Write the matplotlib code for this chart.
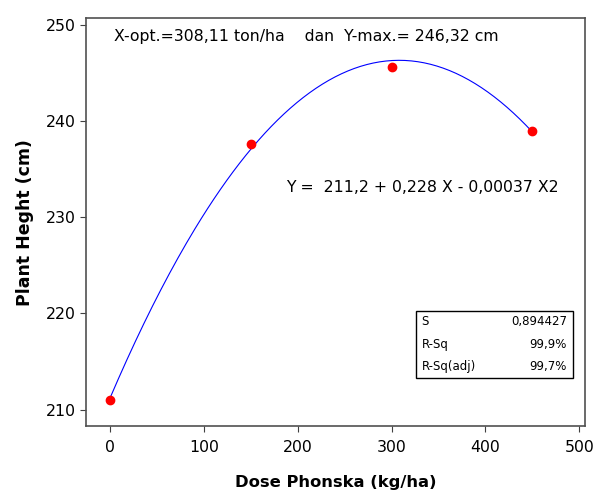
import matplotlib.pyplot as plt
from matplotlib.patches import Rectangle
import numpy as np

dose = [0, 150, 300, 450]                      # Dose Phonska (kg/ha)
height = [211.0, 237.6, 245.6, 239.0]          # Plant height (cm)
coef = [-0.00037, 0.228, 211.2]                # fitted quadratic, highest power first
x_ticks = [0, 100, 200, 300, 400, 500]
y_ticks = [210, 220, 230, 240, 250]
stat_names = ['S', 'R-Sq', 'R-Sq(adj)']
stat_values = ['0,894427', '99,9%', '99,7%']

plt.rcParams['font.family'] = ['DejaVu Sans']

fig = plt.figure(figsize=(5.93, 4.93), dpi=100)
ax = fig.add_axes([0.145, 0.136, 0.842, 0.827])

# Fitted curve over the range of the data
xs = np.linspace(min(dose), max(dose), 200)
ax.plot(xs, np.polyval(coef, xs), color='blue', lw=0.8)
ax.plot(dose, height, 'o', color='red', ms=6, zorder=3)

ax.set_xlim(-25.6, 506.4)
ax.set_ylim(208.3, 250.7)
ax.set_xticks(x_ticks)
ax.set_yticks(y_ticks)
ax.tick_params(labelsize=11.3, length=4, color='#404040')
ax.tick_params(axis='x', pad=6)
for s in ax.spines.values():
    s.set_color('#505050')
    s.set_linewidth(1.2)

ax.set_xlabel('Dose Phonska (kg/ha)', fontsize=11.8, fontweight='bold')
ax.xaxis.set_label_coords(0.5, -0.12)
ax.set_ylabel('Plant Heght (cm)', fontsize=12.5, fontweight='bold', labelpad=8)

ax.text(0.057, 0.955, 'X-opt.=308,11 ton/ha    dan  Y-max.= 246,32 cm',
        transform=ax.transAxes, fontsize=11.3, va='center', ha='left')
ax.text(0.4, 0.585, 'Y =  211,2 + 0,228 X - 0,00037 X2',
        transform=ax.transAxes, fontsize=11.3, va='center', ha='left')

# Summary box in the lower right
bx, by, bw, bh = 0.66, 0.117, 0.315, 0.166
ax.add_patch(Rectangle((bx, by), bw, bh, transform=ax.transAxes,
                       fill=False, ec='black', lw=1))
row_h = bh / len(stat_names)
for i, (n, v) in enumerate(zip(stat_names, stat_values)):
    yc = by + bh - row_h * (i + 0.5)
    ax.text(bx + 0.012, yc, n, transform=ax.transAxes, fontsize=8.5, va='center')
    ax.text(bx + bw - 0.012, yc, v, transform=ax.transAxes, fontsize=8.5,
            va='center', ha='right')

plt.savefig('out.png', dpi=100)
